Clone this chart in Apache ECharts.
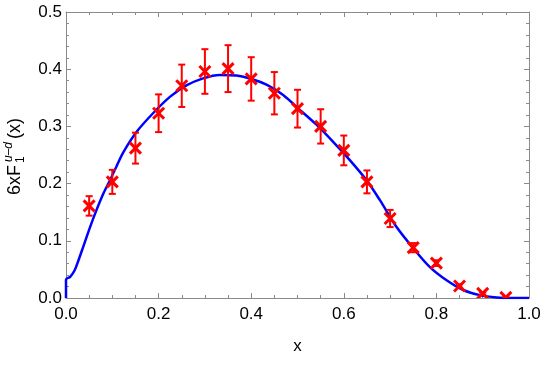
<!DOCTYPE html>
<html>
<head>
<meta charset="utf-8">
<script src="https://cdn.jsdelivr.net/npm/echarts@6/dist/echarts.min.js"></script>
<style>
  html, body { margin: 0; padding: 0; background: #fff; }
  #chart { width: 545px; height: 366px; }
</style>
</head>
<body>
<div id="chart"></div>
<script>
// lattice points (x, value, error)
const pointX = [0.05, 0.10, 0.15, 0.20, 0.25, 0.30, 0.35, 0.40, 0.45, 0.50,
  0.55, 0.60, 0.65, 0.70, 0.75, 0.80, 0.85, 0.90, 0.95]
const pointY = [0.161, 0.203, 0.262, 0.323, 0.371, 0.396, 0.401, 0.383, 0.358, 0.331,
  0.300, 0.258, 0.203, 0.139, 0.088, 0.061, 0.021, 0.008, 0.001]
const pointErr = [0.017, 0.021, 0.027, 0.033, 0.037, 0.039, 0.041, 0.038, 0.037, 0.033,
  0.030, 0.026, 0.020, 0.015, 0.008, 0.005, 0.003, 0.002, 0.001]

// fitted curve
const curveX = [0, 0, 0.009, 0.019, 0.027, 0.037, 0.052, 0.066, 0.081, 0.095, 0.109,
  0.124, 0.153, 0.188, 0.225, 0.261, 0.296, 0.332, 0.368, 0.404, 0.433, 0.469, 0.505,
  0.541, 0.577, 0.613, 0.65, 0.678, 0.714, 0.75, 0.786, 0.822, 0.858, 0.894, 0.93, 0.966, 1]
const curveY = [0, 0.032, 0.037, 0.049, 0.066, 0.089, 0.124, 0.154, 0.183, 0.206, 0.23,
  0.255, 0.291, 0.323, 0.352, 0.372, 0.384, 0.39, 0.389, 0.382, 0.373, 0.355, 0.329,
  0.303, 0.273, 0.241, 0.205, 0.171, 0.124, 0.087, 0.054, 0.031, 0.014, 0.005, 0.001, 0, 0]

const xTicks = { min: 0, max: 1, interval: 0.2 }
const yTicks = { min: 0, max: 0.5, interval: 0.1 }

const font = 'Liberation Sans'
const frameColor = '#8a8a8a'

const chart = echarts.init(document.getElementById('chart'))

function frameAxis(extra) {
  return Object.assign({
    type: 'value',
    axisLine: { show: true, onZero: false, lineStyle: { color: frameColor, width: 1 } },
    axisTick: { show: true, inside: true, length: 5, lineStyle: { color: frameColor } },
    minorTick: { show: true, length: 3, lineStyle: { color: frameColor } },
    splitLine: { show: false },
    axisLabel: { show: false }
  }, extra)
}

const tickLabel = {
  show: true,
  fontFamily: font,
  fontSize: 17,
  color: '#000',
  formatter: (v) => v.toFixed(1)
}

const option = {
  animation: false,
  grid: { left: 66, right: 16, top: 12, bottom: 68 },
  xAxis: [
    frameAxis(Object.assign({}, xTicks, {
      position: 'bottom',
      minorTick: { show: true, splitNumber: 4, length: 3, lineStyle: { color: frameColor } },
      axisLabel: Object.assign({}, tickLabel, { margin: 8 }),
      name: 'x',
      nameLocation: 'middle',
      nameGap: 40,
      nameTextStyle: { fontFamily: font, fontSize: 17, color: '#000' }
    })),
    frameAxis(Object.assign({}, xTicks, {
      position: 'top',
      minorTick: { show: true, splitNumber: 4, length: 3, lineStyle: { color: frameColor } }
    }))
  ],
  yAxis: [
    frameAxis(Object.assign({}, yTicks, {
      position: 'left',
      minorTick: { show: true, splitNumber: 5, length: 3, lineStyle: { color: frameColor } },
      axisLabel: Object.assign({}, tickLabel, { margin: 4 })
    })),
    frameAxis(Object.assign({}, yTicks, {
      position: 'right',
      minorTick: { show: true, splitNumber: 5, length: 3, lineStyle: { color: frameColor } }
    }))
  ],
  graphic: [
    {
      type: 'group',
      x: 15,
      y: 195,
      rotation: Math.PI / 2,
      children: [
        { type: 'text', x: 0, y: 0, style: { text: '6xF', font: '18px ' + font, fill: '#000', verticalAlign: 'middle' } },
        { type: 'text', x: 32, y: 6, style: { text: '1', font: '12px ' + font, fill: '#000', verticalAlign: 'middle' } },
        { type: 'text', x: 33, y: -6, style: { text: 'u\u2013d', font: 'italic 12px ' + font, fill: '#000', verticalAlign: 'middle' } },
        { type: 'text', x: 56, y: 0, style: { text: '(x)', font: '18px ' + font, fill: '#000', verticalAlign: 'middle' } }
      ]
    }
  ],
  series: [
    {
      type: 'line',
      data: curveX.map((x, i) => [x, curveY[i]]),
      showSymbol: false,
      smooth: 0.3,
      clip: true,
      lineStyle: { color: '#0000ff', width: 2.5 },
      z: 2
    },
    {
      type: 'custom',
      clip: true,
      z: 3,
      data: pointX.map((x, i) => [x, pointY[i], pointErr[i]]),
      renderItem: (params, api) => {
        const x = api.value(0)
        const y = api.value(1)
        const e = api.value(2)
        const c = api.coord([x, y])
        const lo = api.coord([x, y - e])
        const hi = api.coord([x, y + e])
        const cap = 3.5
        const s = 5.5
        const bar = { stroke: '#ff0000', lineWidth: 2 }
        const mark = { stroke: '#ff0000', lineWidth: 3 }
        return {
          type: 'group',
          children: [
            { type: 'line', shape: { x1: c[0], y1: lo[1], x2: c[0], y2: hi[1] }, style: bar },
            { type: 'line', shape: { x1: c[0] - cap, y1: lo[1], x2: c[0] + cap, y2: lo[1] }, style: bar },
            { type: 'line', shape: { x1: c[0] - cap, y1: hi[1], x2: c[0] + cap, y2: hi[1] }, style: bar },
            { type: 'line', shape: { x1: c[0] - s, y1: c[1] - s, x2: c[0] + s, y2: c[1] + s }, style: mark },
            { type: 'line', shape: { x1: c[0] - s, y1: c[1] + s, x2: c[0] + s, y2: c[1] - s }, style: mark }
          ]
        }
      }
    }
  ]
}

chart.setOption(option)
</script>
</body>
</html>
